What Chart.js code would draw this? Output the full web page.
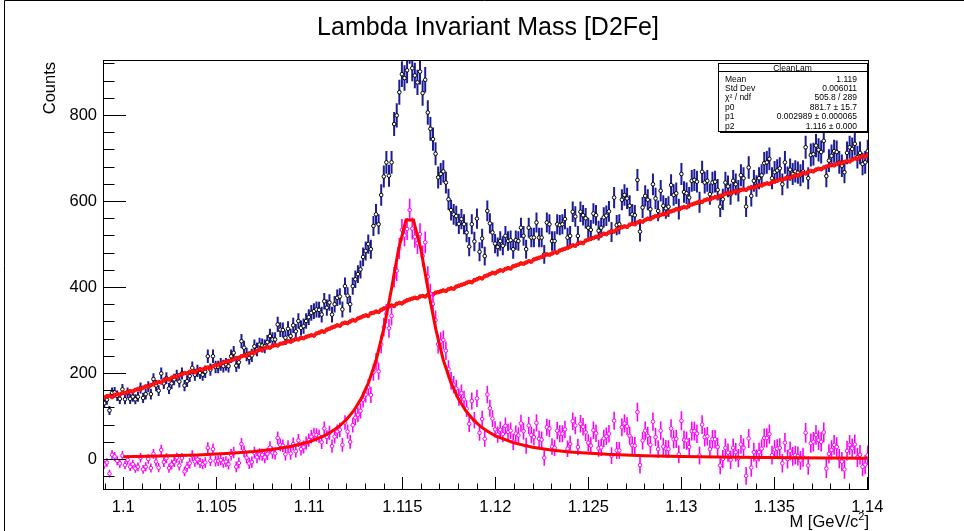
<!DOCTYPE html>
<html>
<head>
<meta charset="utf-8">
<title>Lambda Invariant Mass [D2Fe]</title>
<script src="https://cdn.jsdelivr.net/npm/chart.js@4.4.1/dist/chart.umd.min.js"></script>
<style>
  body { margin: 0; background: #fff; }
  canvas { display: block; }
</style>
</head>
<body>
<canvas id="massChart" width="964" height="531"></canvas>
<script>
// histogram binning (296 bins)
const binLow = 1.09891;
const binWidth = 0.00013913;

// axis tick labels
const massTicks = [1.1, 1.105, 1.11, 1.115, 1.12, 1.125, 1.13, 1.135, 1.14];
const countTicks = [0, 200, 400, 600, 800];

// total counts per bin (blue)
const totalCounts = [
  130,138,113,154,155,147,140,162,139,154,
  140,145,139,145,165,142,151,168,151,186,
  171,159,199,176,188,164,176,185,194,180,
  199,171,181,193,212,196,205,200,196,203,
  239,208,239,214,214,220,216,220,216,239,
  247,217,225,274,259,243,235,241,262,255,
  266,264,262,272,286,278,278,313,301,300,
  282,303,286,311,297,321,305,309,321,330,
  340,344,348,347,336,367,352,364,336,360,
  375,378,348,402,380,360,402,418,430,441,
  470,484,500,488,542,569,546,614,657,690,
  659,690,779,799,853,895,886,904,950,909,
  892,876,901,851,882,806,768,744,710,655,
  663,669,643,604,579,569,565,547,558,546,
  527,494,546,506,559,482,513,472,577,548,
  527,501,493,507,496,519,507,509,488,509,
  507,538,519,488,538,515,515,550,515,515,
  476,550,546,507,507,546,544,546,558,515,
  519,575,564,519,575,567,560,538,533,571,
  567,531,538,562,566,576,528,608,544,546,
  603,614,606,589,569,567,649,529,585,612,
  603,581,639,606,577,624,589,583,587,637,
  614,618,581,663,621,618,608,647,649,645,
  597,668,643,647,616,643,645,626,587,604,
  643,634,616,647,639,624,660,653,587,678,
  612,647,635,653,660,688,690,698,653,667,
  671,676,639,690,655,673,663,669,666,660,
  669,725,653,707,709,729,719,714,740,658,
  694,705,716,714,690,682,667,712,725,721,
  733,702,712,686,690,716
];

// background estimate per bin (red)
const backgroundCounts = [
  143,146,147,144,149,151,150,154,153,156,
  158,157,161,163,162,166,169,168,172,174,
  177,179,178,183,186,185,189,192,191,195,
  197,200,199,203,204,202,206,209,208,211,
  213,212,216,219,218,222,224,226,228,229,
  232,235,234,239,241,240,245,248,247,251,
  255,254,258,260,259,263,265,264,268,269,
  271,274,273,276,279,278,282,281,284,286,
  288,287,292,294,297,296,301,303,306,308,
  311,310,315,317,316,320,323,322,327,329,
  332,334,333,339,340,343,342,347,350,352,
  355,357,356,361,363,362,366,369,371,373,
  375,374,378,379,378,382,384,383,387,388,
  390,392,391,395,397,396,401,403,405,407,
  410,412,411,416,418,421,420,425,427,430,
  433,432,436,439,438,442,444,443,448,450,
  452,455,454,457,460,459,464,466,468,470,
  473,476,475,478,481,480,485,487,489,491,
  494,497,496,501,503,502,508,510,512,514,
  517,516,521,524,523,527,530,529,534,536,
  539,541,540,545,547,546,550,553,552,556,
  559,558,562,565,564,568,570,569,574,576,
  578,581,580,584,586,585,590,592,594,596,
  599,598,602,604,603,607,609,608,612,614,
  617,619,618,621,623,622,626,627,626,630,
  632,631,634,637,636,639,641,640,644,645,
  647,650,649,652,655,654,657,660,659,663,
  665,664,668,670,669,673,675,674,678,680,
  682,684,683,686,689,688,691,693,692,696,
  699,698,702,704,703,707
];

// background-subtracted counts per bin (magenta)
const signalCounts = [
  -13,-8,-34,10,6,-4,-10,8,-14,-2,
  -18,-12,-22,-18,3,-24,-18,0,-21,12,
  -6,-20,21,-7,2,-21,-13,-7,3,-15,
  2,-29,-18,-10,8,-6,-1,-9,-12,-8,
  26,-4,23,-5,-4,-2,-8,-6,-12,10,
  15,-18,-9,35,18,3,-10,-7,15,4,
  11,10,4,12,27,15,13,49,33,31,
  11,29,13,35,18,43,23,28,37,44,
  52,57,56,53,39,71,51,61,30,52,
  64,68,33,85,64,40,79,96,103,112,
  138,150,167,149,202,226,204,267,307,338,
  304,333,423,438,490,533,520,535,579,536,
  517,502,523,472,504,424,384,361,323,267,
  273,277,252,209,182,173,164,144,153,139,
  117,82,135,90,141,61,93,47,150,118,
  94,69,57,68,58,77,63,66,40,59,
  55,83,65,31,78,56,51,84,47,45,
  3,74,71,29,26,66,59,59,69,24,
  35,88,78,28,82,75,62,38,31,67,
  60,25,27,48,53,59,8,89,20,20,
  74,83,76,54,32,31,109,-14,43,66,
  54,33,87,51,23,66,29,24,23,71,
  46,47,11,89,45,43,28,65,65,59,
  8,80,51,53,23,46,46,28,-15,0,
  26,15,-2,26,16,2,34,26,-39,48,
  -20,16,1,16,24,49,49,58,9,22,
  24,26,-10,38,0,19,6,9,7,-3,
  4,61,-15,37,40,56,44,40,62,-22,
  12,21,33,28,1,-6,-24,19,33,25,
  34,4,10,-18,-13,9
];

// fitted curve
const fitMass = [
  1.100, 1.102, 1.104, 1.106, 1.107, 1.108, 1.109, 1.110, 1.1108, 1.1112,
  1.1116, 1.1120, 1.1124, 1.1128, 1.1132, 1.1136, 1.1140, 1.1144, 1.1148, 1.1152,
  1.1156, 1.1160, 1.1164, 1.1168, 1.1172, 1.1176, 1.1180, 1.1184, 1.1188, 1.1192,
  1.1196, 1.1200, 1.121, 1.122, 1.123, 1.124, 1.126, 1.128, 1.130, 1.133,
  1.136, 1.140
];
const fitCounts = [
  5.3, 7.0, 9.6, 14.0, 17.4, 22.2, 29.3, 40.3, 54, 64,
  76, 92, 113, 141, 179, 231, 302, 391, 488, 556,
  556, 488, 391, 302, 231, 179, 141, 113, 92, 76,
  64, 54, 37.6, 27.6, 21.1, 16.6, 11.0, 7.9, 5.9, 4.0,
  3.0, 2.1
];

const statsTitle = "CleanLam";
const statsLabels = ["Mean", "Std Dev", "\u03c7\u00b2 / ndf", "p0", "p1", "p2"];
const statsValues = ["1.119", "0.006011", "505.8 / 289", "881.7 \u00b1 15.7", "0.002989 \u00b1 0.000065", "1.116 \u00b1 0.000"];

const FONT = "Liberation Sans, Arial, Helvetica, sans-serif";

const toPoints = (counts) => counts.map((c, i) => ({ x: binLow + (i + 0.5) * binWidth, y: c }));
const totalErr = totalCounts.map((c) => Math.sqrt(Math.max(c, 1)));
const signalErr = totalCounts.map((c) => 0.85 * Math.sqrt(Math.max(c, 1)));

// vertical error bars, drawn just before each dataset's markers
const errorBars = {
  id: "errorBars",
  beforeDatasetDraw(chart, args) {
    const ds = chart.data.datasets[args.index];
    if (!ds.errors) return;
    const { ctx, chartArea: a } = chart;
    const x = chart.scales.x, y = chart.scales.y;
    ctx.save();
    ctx.beginPath();
    ctx.rect(a.left, a.top, a.right - a.left, a.bottom - a.top);
    ctx.clip();
    ctx.strokeStyle = ds.errColor;
    ctx.lineWidth = ds.errWidth;
    ctx.beginPath();
    ds.data.forEach((p, i) => {
      const px = x.getPixelForValue(p.x);
      ctx.moveTo(px, y.getPixelForValue(p.y - ds.errors[i]));
      ctx.lineTo(px, y.getPixelForValue(p.y + ds.errors[i]));
    });
    ctx.stroke();
    ctx.restore();
  },
};

// ROOT-like frame, inward ticks, titles and stats box
const rootFrame = {
  id: "rootFrame",
  beforeDraw(chart) {
    const ctx = chart.ctx;
    ctx.save();
    ctx.fillStyle = "#ffffff";
    ctx.fillRect(0, 0, chart.width, chart.height);
    ctx.restore();
  },
  afterDraw(chart) {
    const { ctx, chartArea: a } = chart;
    const x = chart.scales.x, y = chart.scales.y;
    ctx.save();

    // canvas border
    ctx.strokeStyle = "#000";
    ctx.lineWidth = 1;
    ctx.beginPath();
    ctx.moveTo(4.5, chart.height);
    ctx.lineTo(4.5, 0.5);
    ctx.lineTo(chart.width, 0.5);
    ctx.stroke();

    // frame
    ctx.strokeRect(a.left + 0.5, a.top + 0.5, a.right - a.left - 1, a.bottom - a.top - 1);

    // y ticks: majors every 200, minors every 40
    ctx.beginPath();
    for (let v = -40; v <= 920; v += 40) {
      const py = Math.round(y.getPixelForValue(v)) + 0.5;
      const len = v % 200 === 0 ? 23 : 11.5;
      ctx.moveTo(a.left, py);
      ctx.lineTo(a.left + len, py);
    }
    // x ticks: majors every 0.005, minors every 0.001
    for (let k = 1099; k <= 1140; k++) {
      const px = Math.round(x.getPixelForValue(k / 1000)) + 0.5;
      const len = k % 5 === 0 ? 13 : 6.5;
      ctx.moveTo(px, a.bottom);
      ctx.lineTo(px, a.bottom - len);
    }
    ctx.stroke();

    ctx.fillStyle = "#000";
    // title
    ctx.font = "25px " + FONT;
    ctx.textAlign = "center";
    ctx.textBaseline = "alphabetic";
    ctx.fillText("Lambda Invariant Mass [D2Fe]", 488, 35);

    // y axis title
    ctx.font = "16.5px " + FONT;
    ctx.save();
    ctx.translate(55, 62);
    ctx.rotate(-Math.PI / 2);
    ctx.textAlign = "right";
    ctx.fillText("Counts", 0, 0);
    ctx.restore();

    // x axis title with superscript
    const right = a.right;
    const base = 527;
    ctx.textAlign = "left";
    const partA = "M [GeV/c", partB = "2", partC = "]";
    ctx.font = "16.5px " + FONT;
    const wA = ctx.measureText(partA).width, wC = ctx.measureText(partC).width;
    ctx.font = "11px " + FONT;
    const wB = ctx.measureText(partB).width;
    const sx = right - (wA + wB + wC);
    ctx.font = "16.5px " + FONT;
    ctx.fillText(partA, sx, base);
    ctx.font = "11px " + FONT;
    ctx.fillText(partB, sx + wA, base - 7);
    ctx.font = "16.5px " + FONT;
    ctx.fillText(partC, sx + wA + wB, base);

    // stats box
    const bx = 718, by = 63, bw = 149, bh = 68;
    ctx.fillStyle = "#fff";
    ctx.fillRect(bx, by, bw, bh);
    ctx.strokeStyle = "#000";
    ctx.lineWidth = 1;
    ctx.strokeRect(bx + 0.5, by + 0.5, bw, bh);
    ctx.beginPath();
    ctx.moveTo(bx + bw + 1.5, by + 2);
    ctx.lineTo(bx + bw + 1.5, by + bh + 1.5);
    ctx.lineTo(bx + 2, by + bh + 1.5);
    ctx.stroke();
    ctx.beginPath();
    ctx.moveTo(bx, by + 8.5);
    ctx.lineTo(bx + bw, by + 8.5);
    ctx.stroke();
    ctx.fillStyle = "#000";
    ctx.font = "8.5px " + FONT;
    ctx.textAlign = "center";
    ctx.fillText(statsTitle, bx + bw / 2, by + 7.5);
    statsLabels.forEach((lab, i) => {
      const ty = by + 18.5 + i * 9.4;
      ctx.textAlign = "left";
      ctx.fillText(lab, bx + 7, ty);
      ctx.textAlign = "right";
      ctx.fillText(statsValues[i], bx + bw - 10, ty);
    });

    ctx.restore();
  },
};

const tickFont = { family: FONT, size: 16.5 };

new Chart(document.getElementById("massChart"), {
  type: "scatter",
  data: {
    datasets: [
      {
        label: "fit",
        data: fitMass.map((m, i) => ({ x: m, y: fitCounts[i] })),
        showLine: true,
        borderColor: "#ff0000",
        borderWidth: 3,
        pointRadius: 0,
        tension: 0,
        clip: 0,
      },
      {
        label: "signal",
        data: toPoints(signalCounts),
        errors: signalErr,
        errColor: "#ff00ff",
        errWidth: 1.6,
        pointRadius: 1.8,
        pointBorderWidth: 1,
        pointBorderColor: "#ff00ff",
        pointBackgroundColor: "#ffffff",
        clip: 0,
      },
      {
        label: "background",
        data: toPoints(backgroundCounts),
        pointRadius: 1.8,
        pointBorderWidth: 1,
        pointBorderColor: "#ff0000",
        pointBackgroundColor: "#ff2020",
        clip: 0,
      },
      {
        label: "total",
        data: toPoints(totalCounts),
        errors: totalErr,
        errColor: "#1c1c96",
        errWidth: 2,
        pointRadius: 1.8,
        pointBorderWidth: 1,
        pointBorderColor: "#000000",
        pointBackgroundColor: "#ffffff",
        clip: 0,
      },
    ],
  },
  options: {
    responsive: false,
    animation: false,
    events: [],
    layout: { padding: { left: 0, top: 60, right: 95, bottom: 0 } },
    plugins: { legend: { display: false }, tooltip: { enabled: false } },
    scales: {
      x: {
        type: "linear",
        min: 1.09891,
        max: 1.14009,
        afterFit: (s) => { s.height = 41; },
        afterBuildTicks: (s) => { s.ticks = massTicks.map((v) => ({ value: v })); },
        grid: { display: false, drawTicks: false },
        border: { display: false },
        ticks: {
          autoSkip: false,
          maxRotation: 0,
          padding: 8,
          color: "#000",
          font: tickFont,
          callback: (v) => String(+Number(v).toFixed(3)),
        },
      },
      y: {
        type: "linear",
        min: -72,
        max: 928,
        afterFit: (s) => { s.width = 103; },
        afterBuildTicks: (s) => { s.ticks = countTicks.map((v) => ({ value: v })); },
        grid: { display: false, drawTicks: false },
        border: { display: false },
        ticks: {
          autoSkip: false,
          padding: 6,
          color: "#000",
          font: tickFont,
        },
      },
    },
  },
  plugins: [errorBars, rootFrame],
});
</script>
</body>
</html>
